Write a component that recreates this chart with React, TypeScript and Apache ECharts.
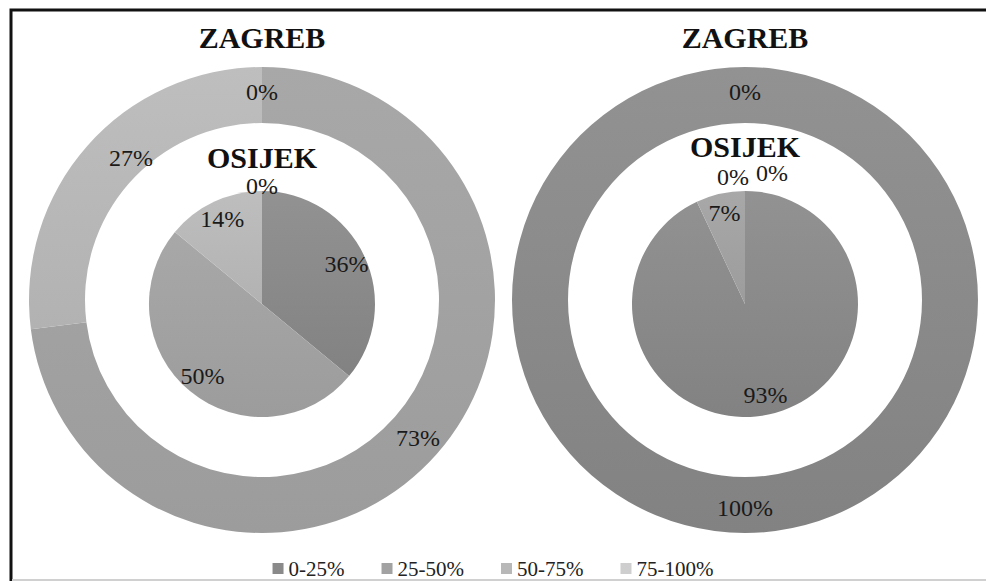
import React, { useEffect, useRef } from "react";
import * as echarts from "echarts";

const categories = ["0-25%", "25-50%", "50-75%", "75-100%"];
const zagrebLeft = [0, 73, 27, 0];
const osijekLeft = [36, 50, 14, 0];
const zagrebRight = [100, 0, 0, 0];
const osijekRight = [93, 7, 0, 0];
const titleOuter = "ZAGREB";
const titleInner = "OSIJEK";

const palette = ["#8a8a8a", "#a2a2a2", "#b8b8b8", "#cecece"];
const paletteTop = ["#929292", "#a8a8a8", "#bebebe", "#d4d4d4"];
const paletteBot = ["#828282", "#9c9c9c", "#b2b2b2", "#c8c8c8"];

const FONT = "Liberation Serif";

function fill(i: number) {
  return new echarts.graphic.LinearGradient(0, 0, 0, 1, [
    { offset: 0, color: paletteTop[i] },
    { offset: 1, color: paletteBot[i] },
  ]);
}

const labelBase = {
  fontFamily: FONT,
  fontSize: 24,
  color: "#1a1a1a",
};

function visiblePie(values: number[], center: [number, number], radius: [number, number], labelRule: (v: number, i: number) => boolean, layout?: any) {
  return {
    type: "pie",
    center,
    radius,
    startAngle: 90,
    clockwise: true,
    silent: true,
    avoidLabelOverlap: false,
    minShowLabelAngle: 0,
    label: { show: true, position: "inside", formatter: "{c}%", ...labelBase },
    labelLine: { show: false },
    labelLayout: layout,
    emphasis: { disabled: true },
    data: values.map((v, i) => ({
      name: categories[i],
      value: v,
      itemStyle: { color: fill(i) },
      label: { show: labelRule(v, i) },
    })),
  };
}

function overlayPie(values: number[], center: [number, number], radius: [number, number], labelRule: (v: number, i: number) => boolean, layout?: any) {
  return {
    type: "pie",
    center,
    radius,
    startAngle: 90,
    clockwise: true,
    silent: true,
    avoidLabelOverlap: false,
    minShowLabelAngle: 0,
    label: { show: true, position: "inside", formatter: "{c}%", ...labelBase },
    labelLine: { show: false },
    emphasis: { disabled: true },
    itemStyle: { color: "rgba(0,0,0,0)", borderWidth: 0 },
    labelLayout: layout,
    data: values.map((v, i) => ({
      name: categories[i],
      value: v,
      label: { show: labelRule(v, i) },
    })),
  };
}

function firstZeroOrNonZero(values: number[]) {
  const firstZero = values.indexOf(0);
  return (v: number, i: number) => v > 0 || i === firstZero;
}

export default function App() {
  const ref = useRef<HTMLDivElement>(null);
  useEffect(() => {
    if (!ref.current) return;
    const chart = echarts.init(ref.current, null, { renderer: "svg" });
    const cL: [number, number] = [262, 300];
    const cR: [number, number] = [745, 300];
    const iL: [number, number] = [262, 304];
    const iR: [number, number] = [745, 304];
    const ring: [number, number] = [177, 233];
    const pieR: [number, number] = [0, 113];
    const midR: [number, number] = [68, 113];
    const zeroRL: [number, number] = [104, 126];
    const zeroRR: [number, number] = [112, 136];

    const zeroLayoutRight = (p: any) => {
      if (p.dataIndex === 2) return { dx: -12, dy: 0 };
      if (p.dataIndex === 3) return { dx: 27, dy: -4 };
      return {};
    };
    const outerLayoutLeft = (p: any) => {
      if (p.dataIndex === 2) return { dx: 25, dy: -4 };
      return {};
    };

    const titleFont = `bold 30px ${FONT}`;

    chart.setOption({
      animation: false,
      backgroundColor: "#ffffff",
      color: palette,
      legend: {
        top: 558,
        left: "center",
        padding: [0, 0, 0, 20],
        icon: "rect",
        itemWidth: 11,
        itemHeight: 11,
        itemGap: 37,
        textStyle: { fontFamily: FONT, fontSize: 21, color: "#222" },
        data: categories.map((c, i) => ({ name: c, itemStyle: { color: palette[i] } })),
        selectedMode: false,
      },
      graphic: [
        {
          type: "rect",
          shape: { x: 11, y: 10, width: 1000, height: 600 },
          style: { fill: "none", stroke: "#111", lineWidth: 3 },
          silent: true,
        },
        {
          type: "line",
          shape: { x1: 12, y1: 580, x2: 986, y2: 580 },
          style: { stroke: "#d0d0d0", lineWidth: 2 },
          silent: true,
        },
        {
          type: "text",
          x: cL[0],
          y: 37,
          style: { text: titleOuter, font: titleFont, fill: "#111", align: "center", verticalAlign: "middle" },
        },
        {
          type: "text",
          x: cR[0],
          y: 37,
          style: { text: titleOuter, font: titleFont, fill: "#111", align: "center", verticalAlign: "middle" },
        },
        {
          type: "text",
          x: iL[0],
          y: 157,
          style: { text: titleInner, font: titleFont, fill: "#111", align: "center", verticalAlign: "middle" },
        },
        {
          type: "text",
          x: iR[0],
          y: 146,
          style: { text: titleInner, font: titleFont, fill: "#111", align: "center", verticalAlign: "middle" },
        },
      ],
      series: [
        visiblePie(zagrebLeft, cL, ring, firstZeroOrNonZero(zagrebLeft), outerLayoutLeft),
        visiblePie(osijekLeft, iL, pieR, () => false),
        overlayPie(osijekLeft, iL, midR, (v) => v > 0),
        overlayPie(osijekLeft, iL, zeroRL, (v) => v === 0),
        visiblePie(zagrebRight, cR, ring, firstZeroOrNonZero(zagrebRight)),
        visiblePie(osijekRight, iR, pieR, () => false),
        overlayPie(osijekRight, iR, midR, (v) => v > 0),
        overlayPie(osijekRight, iR, zeroRR, (v) => v === 0, zeroLayoutRight),
      ],
    });
    return () => chart.dispose();
  }, []);
  return (
    <div
      ref={ref}
      style={{ position: "fixed", left: 0, top: 0, width: 986, height: 581, background: "#fff" }}
    />
  );
}
